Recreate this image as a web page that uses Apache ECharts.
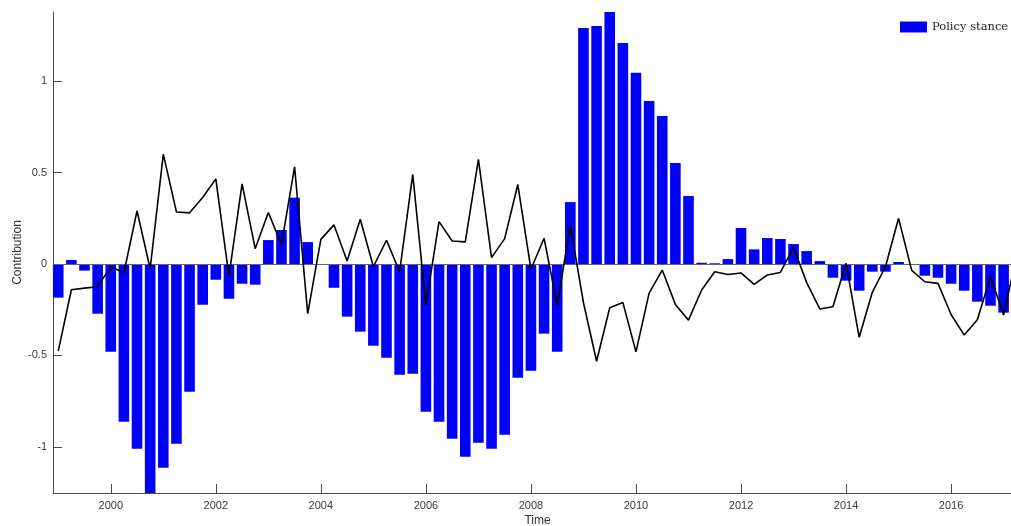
<!DOCTYPE html>
<html>
<head>
<meta charset="utf-8">
<script src="https://cdn.jsdelivr.net/npm/echarts@6/dist/echarts.min.js"></script>
<style>
html,body{margin:0;padding:0;background:#fff;}
#chart{width:1011px;height:526px;}
</style>
</head>
<body>
<div id="chart"></div>
<script>
// Quarterly dates (1999Q1 = 1999.00, step 0.25)
const startYear = 1999;
const policyStance = [
  -0.184, 0.022, -0.036, -0.272, -0.480, -0.863, -1.011, -1.253,
  -1.115, -0.984, -0.699, -0.223, -0.086, -0.190, -0.108, -0.113,
  0.131, 0.186, 0.363, 0.120, -0.003, -0.130, -0.288, -0.370,
  -0.447, -0.513, -0.606, -0.600, -0.808, -0.863, -0.956, -1.055,
  -0.978, -1.011, -0.934, -0.622, -0.584, -0.381, -0.480, 0.339,
  1.292, 1.303, 1.379, 1.210, 1.046, 0.892, 0.810, 0.553,
  0.372, 0.007, 0.004, 0.027, 0.197, 0.080, 0.142, 0.137,
  0.109, 0.071, 0.016, -0.075, -0.091, -0.146, -0.042, -0.042,
  0.011, -0.003, -0.064, -0.075, -0.108, -0.146, -0.206, -0.228,
  -0.266, -0.228
];
const totalLine = [
  -0.477, -0.141, -0.132, -0.124, -0.015, -0.048, 0.291, -0.026,
  0.601, 0.285, 0.280, 0.364, 0.466, -0.066, 0.439, 0.084,
  0.282, 0.106, 0.532, -0.272, 0.135, 0.214, 0.016, 0.245,
  -0.015, 0.130, -0.042, 0.490, -0.225, 0.232, 0.126, 0.121,
  0.572, 0.035, 0.139, 0.435, -0.029, 0.141, -0.225, 0.212,
  -0.212, -0.532, -0.239, -0.210, -0.481, -0.159, -0.033, -0.221,
  -0.307, -0.142, -0.042, -0.057, -0.049, -0.111, -0.060, -0.046,
  0.091, -0.102, -0.246, -0.234, 0.004, -0.401, -0.155, -0.015,
  0.250, -0.035, -0.097, -0.106, -0.276, -0.389, -0.305, -0.069,
  -0.279, 0.050
];
const xTickLabels = [2000, 2002, 2004, 2006, 2008, 2010, 2012, 2014, 2016];
const yTickLabels = [-1, -0.5, 0, 0.5, 1];
const legendLabel = 'Policy stance';

const dates = policyStance.map((_, i) => startYear + i * 0.25);
const barData = dates.map((d, i) => [d, policyStance[i]]);
const lineData = dates.map((d, i) => [d, totalLine[i]]);

const axisColor = '#4a4a4a';
const chart = echarts.init(document.getElementById('chart'), null, {renderer: 'canvas'});
chart.setOption({
  animation: false,
  backgroundColor: '#ffffff',
  grid: {left: 53, top: 12, bottom: 33, right: -11, containLabel: false, outerBoundsMode: 'none'},
  legend: {
    data: [legendLabel],
    left: 900, top: 21, padding: 0,
    icon: 'rect', itemWidth: 27, itemHeight: 11, itemGap: 4,
    textStyle: {fontFamily: 'DejaVu Serif', fontSize: 11.5, color: '#222'}
  },
  xAxis: {
    type: 'value', min: 1998.9, max: 2017.35,
    name: 'Time', nameLocation: 'middle', nameGap: 22, nameMoveOverlap: false,
    nameTextStyle: {fontFamily: 'Liberation Sans', fontSize: 12, color: '#333'},
    axisLine: {show: true, onZero: false, lineStyle: {color: axisColor, width: 1}},
    axisTick: {show: true, inside: true, length: 9, customValues: xTickLabels, lineStyle: {color: axisColor}},
    axisLabel: {customValues: xTickLabels, formatter: v => String(v), fontFamily: 'Liberation Sans', fontSize: 11, color: '#3a3a3a', margin: 7},
    splitLine: {show: false}
  },
  yAxis: {
    type: 'value', min: -1.253, max: 1.379,
    name: 'Contribution', nameLocation: 'middle', nameGap: 29, nameMoveOverlap: false,
    nameTextStyle: {fontFamily: 'Liberation Sans', fontSize: 12, color: '#333'},
    axisLine: {show: true, onZero: false, lineStyle: {color: axisColor, width: 1}},
    axisTick: {show: true, inside: true, length: 9, customValues: yTickLabels, lineStyle: {color: axisColor}},
    axisLabel: {customValues: yTickLabels, formatter: v => String(v), fontFamily: 'Liberation Sans', fontSize: 11, color: '#3a3a3a', margin: 6},
    splitLine: {show: false}
  },
  series: [
    {
      name: legendLabel, type: 'bar', data: barData, barWidth: 10.6,
      itemStyle: {color: '#0000ff'}, z: 2,
      markLine: {
        silent: true, symbol: ['none', 'none'], label: {show: false},
        lineStyle: {color: '#666', width: 1, type: 'solid'},
        data: [{yAxis: 0}]
      }
    },
    {
      name: 'Total', type: 'line', data: lineData, showSymbol: false, symbol: 'none',
      lineStyle: {color: '#000', width: 1.6}, z: 5
    }
  ]
});
</script>
</body>
</html>
